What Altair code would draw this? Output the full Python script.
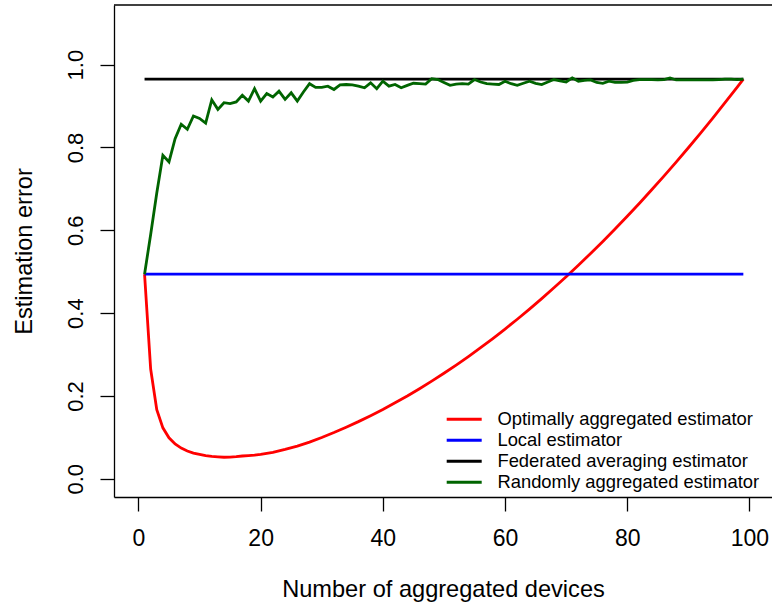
import altair as alt
import pandas as pd

FONT = "Liberation Sans, Arial, Helvetica, sans-serif"

series_names = [
    "Optimally aggregated estimator",
    "Local estimator",
    "Federated averaging estimator",
    "Randomly aggregated estimator",
]
series_colors = ["#FF0000", "#0000FF", "#000000", "#006400"]

# Optimally aggregated estimator (red)
red_x = list(range(1, 21)) + list(range(22, 99, 2)) + [99]
red_y = [0.494, 0.265, 0.167, 0.123, 0.099, 0.084, 0.074, 0.067, 0.062, 0.059,
         0.056, 0.054, 0.053, 0.052, 0.0525, 0.0535, 0.055, 0.056, 0.057, 0.059,
         0.064, 0.071, 0.079, 0.0885, 0.0997, 0.1117, 0.1245, 0.138, 0.1524, 0.1674,
         0.1834, 0.200, 0.2175, 0.2357, 0.2547, 0.2746, 0.2951, 0.3165, 0.3386, 0.3616,
         0.3852, 0.4098, 0.435, 0.4611, 0.488, 0.5155, 0.544, 0.5732, 0.6031, 0.6338,
         0.6654, 0.6978, 0.7308, 0.7647, 0.7993, 0.8348, 0.871, 0.908, 0.9458, 0.965]

# Local estimator (blue)
blue_x = [1, 99]
blue_y = [0.494, 0.494]

# Federated averaging estimator (black)
black_x = [1, 99]
black_y = [0.965, 0.965]

# Randomly aggregated estimator (green)
green_x = list(range(1, 100))
green_y = [0.494, 0.590, 0.690, 0.781, 0.765, 0.821, 0.856, 0.844, 0.876, 0.870,
           0.859, 0.915, 0.892, 0.908, 0.906, 0.910, 0.926, 0.912, 0.942, 0.912,
           0.930, 0.922, 0.936, 0.916, 0.932, 0.912, 0.934, 0.954, 0.945, 0.945,
           0.948, 0.940, 0.951, 0.952, 0.951, 0.948, 0.944, 0.956, 0.942, 0.960,
           0.948, 0.952, 0.944, 0.950, 0.955, 0.954, 0.953, 0.966, 0.964, 0.957,
           0.950, 0.953, 0.954, 0.953, 0.964, 0.958, 0.954, 0.953, 0.952, 0.960,
           0.954, 0.950, 0.955, 0.960, 0.955, 0.952, 0.958, 0.964, 0.961, 0.958,
           0.968, 0.960, 0.962, 0.963, 0.957, 0.955, 0.960, 0.957, 0.957, 0.958,
           0.962, 0.964, 0.964, 0.964, 0.963, 0.964, 0.968, 0.963, 0.963, 0.963,
           0.963, 0.963, 0.963, 0.963, 0.964, 0.965, 0.965, 0.964, 0.965]

x_ticks = [0, 20, 40, 60, 80, 100]
y_ticks = [0.0, 0.2, 0.4, 0.6, 0.8, 1.0]

W, H = 658, 492

def frame(xs, ys, name):
    return pd.DataFrame({"x": xs, "y": ys, "series": name})

x_enc = alt.X(
    "x:Q",
    scale=alt.Scale(domain=[-4, 103.69], nice=False, zero=False),
    axis=alt.Axis(
        values=x_ticks, title="Number of aggregated devices", grid=False,
        tickSize=14, tickWidth=1.3, tickColor="black", domainColor="black",
        domainWidth=1.3, labelFontSize=23, labelFont=FONT, labelColor="black",
        labelPadding=16, labelBaseline="top", labelFlush=False,
        titleFont=FONT, titleFontSize=23.6, titleFontWeight="normal", titleColor="black",
        titleBaseline="alphabetic", titleY=99,
    ),
)
y_enc = alt.Y(
    "y:Q",
    scale=alt.Scale(domain=[-0.044, 1.144], nice=False, zero=False),
    axis=alt.Axis(
        values=y_ticks, format=".1f", title="Estimation error", grid=False,
        tickSize=14, tickWidth=1.3, tickColor="black", domainColor="black",
        domainWidth=1.3, labelFontSize=22, labelFont=FONT, labelColor="black",
        labelAngle=270, labelAlign="center", labelBaseline="alphabetic",
        labelPadding=18, labelFlush=False,
        titleFont=FONT, titleFontSize=23.6, titleFontWeight="normal", titleColor="black",
        titleAngle=270, titleBaseline="alphabetic", titleAlign="center",
        titleX=-83, titleY=H / 2,
    ),
)
color_enc = alt.Color(
    "series:N",
    scale=alt.Scale(domain=series_names, range=series_colors),
    legend=alt.Legend(
        orient="none", legendX=341, legendY=405, title=None, padding=0,
        symbolType="M-2.5,0H2.5", symbolSize=196, symbolStrokeWidth=3,
        labelFontSize=18.4, labelFont=FONT, labelColor="black", labelOffset=24,
        rowPadding=2.0, labelLimit=400,
    ),
)

layers = []
for xs, ys, name in [(red_x, red_y, series_names[0]), (blue_x, blue_y, series_names[1]),
                     (black_x, black_y, series_names[2]), (green_x, green_y, series_names[3])]:
    layers.append(
        alt.Chart(frame(xs, ys, name)).mark_line(strokeWidth=2.8).encode(
            x=x_enc, y=y_enc, color=color_enc
        )
    )

top_border = alt.Chart(pd.DataFrame({"a": [0]})).mark_rule(color="black", strokeWidth=1.3).encode(
    x=alt.value(0), x2=alt.value(W), y=alt.value(0)
)

chart = alt.layer(*layers, top_border).properties(
    width=W, height=H,
    autosize=alt.AutoSizeParams(type="none"),
    padding={"left": 114, "top": 5, "right": 0, "bottom": 106},
    background="white",
).configure_view(stroke=None)

chart.save("out.html", embed_options={"renderer": "svg", "actions": False})
